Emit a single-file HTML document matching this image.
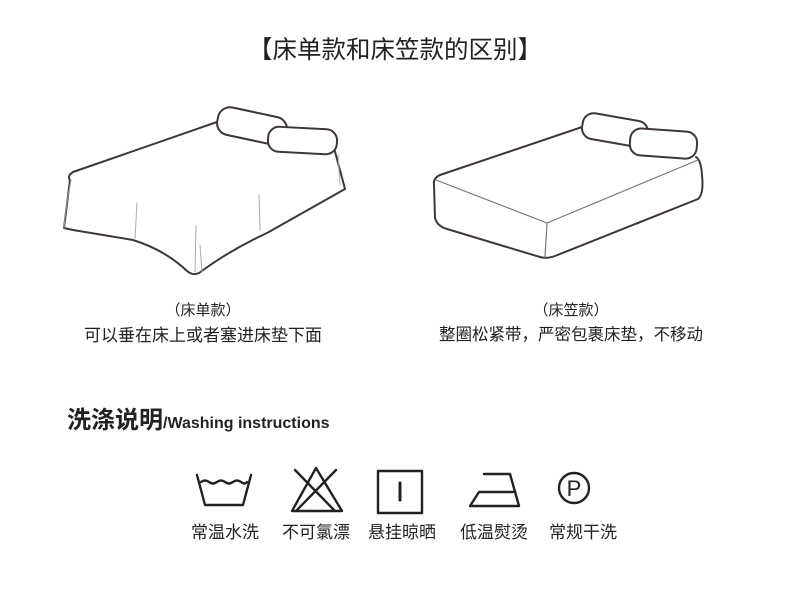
<!DOCTYPE html>
<html><head><meta charset="utf-8"><style>
body{margin:0;width:790px;height:592px;background:#fff;overflow:hidden;font-family:"Liberation Sans","Noto Sans CJK SC",sans-serif;color:#222}
svg{position:absolute;left:0;top:0}
.t{position:absolute;white-space:nowrap;transform:translateX(-50%);line-height:1}
</style></head><body>
<svg width="790" height="592" viewBox="0 0 790 592" fill="none" stroke="#3f3636" stroke-width="2" stroke-linecap="round" stroke-linejoin="round">
<!-- left bed -->
<path d="M217,122 L73,172 Q67,176 70,180 L64,228 L73,230 L133,240 Q165,250 187,271 Q193,276 199,273 Q230,250 267,233 L345,189 Q340,170 334,148"/>
<path d="M64,228 Q66,205 71,180" stroke-width="1" stroke="#999"/>
<path d="M137,203 L135,238 M259,195 L260,230 M196,226 L195,272 M200,245 L202,272 M338,155 L340,185" stroke-width="1" stroke="#aaa"/>
<rect x="217" y="112" width="70" height="28" rx="12" transform="rotate(12 252 126)" fill="#fff"/>
<rect x="268" y="128" width="69" height="25" rx="11" transform="rotate(3 302 140)" fill="#fff"/>
<!-- right bed -->
<path d="M582,127 L440,175 Q433,178 434,185 L435,218 Q437,226 447,229 L540,257 Q547,259 555,256 L698,199 Q704,194 702,175 Q701,160 696,157"/>
<path d="M436,180 L547,223 L698,160 M547,223 L545,257" stroke-width="1.2" stroke="#777"/>
<rect x="582" y="117" width="66" height="26" rx="11" transform="rotate(10 615 130)" fill="#fff"/>
<rect x="630" y="130" width="67" height="27" rx="11" transform="rotate(4 663 143)" fill="#fff"/>
<!-- icons -->
<g stroke="#222" stroke-width="2.4">
<path d="M197,475 L205,505 L243,505 L251,475"/>
<path d="M201,482 q4,-3 8,0 q4,3 8,0 q4,-3 8,0 q4,3 8,0 q4,-3 8,0 q4,3 6,0"/>
<path d="M316,468 L292,511 L342,511 Z M295,470 L335,511 M336,470 L296,511"/>
<rect x="378" y="471" width="44" height="42"/>
<path d="M400,483 L400,500" stroke-width="3"/>
<path d="M484,474 L510,474 L519,506 L470,506 L479,492 L513,492"/>
<circle cx="574" cy="488" r="15"/>
</g>
<text x="574" y="496" font-family="Liberation Sans" font-size="22" fill="#222" stroke="none" text-anchor="middle">P</text>
</svg>
<div class="t" style="left:395px;top:39px;font-size:24.5px">【床单款和床笠款的区别】</div>
<div class="t" style="left:203px;top:303px;font-size:15px">（床单款）</div>
<div class="t" style="left:203px;top:327px;font-size:17px">可以垂在床上或者塞进床垫下面</div>
<div class="t" style="left:571px;top:303px;font-size:15px">（床笠款）</div>
<div class="t" style="left:571px;top:327px;font-size:16.5px">整圈松紧带，严密包裹床垫，不移动</div>
<div style="position:absolute;left:67px;top:409px;white-space:nowrap;line-height:1"><span style="font-size:24px;font-weight:bold">洗涤说明</span><span style="font-size:16px;font-weight:bold">/Washing instructions</span></div>
<div class="t" style="left:225px;top:524px;font-size:17px">常温水洗</div>
<div class="t" style="left:316px;top:524px;font-size:17px">不可氯漂</div>
<div class="t" style="left:402px;top:524px;font-size:17px">悬挂晾晒</div>
<div class="t" style="left:494px;top:524px;font-size:17px">低温熨烫</div>
<div class="t" style="left:583px;top:524px;font-size:17px">常规干洗</div>
</body></html>
